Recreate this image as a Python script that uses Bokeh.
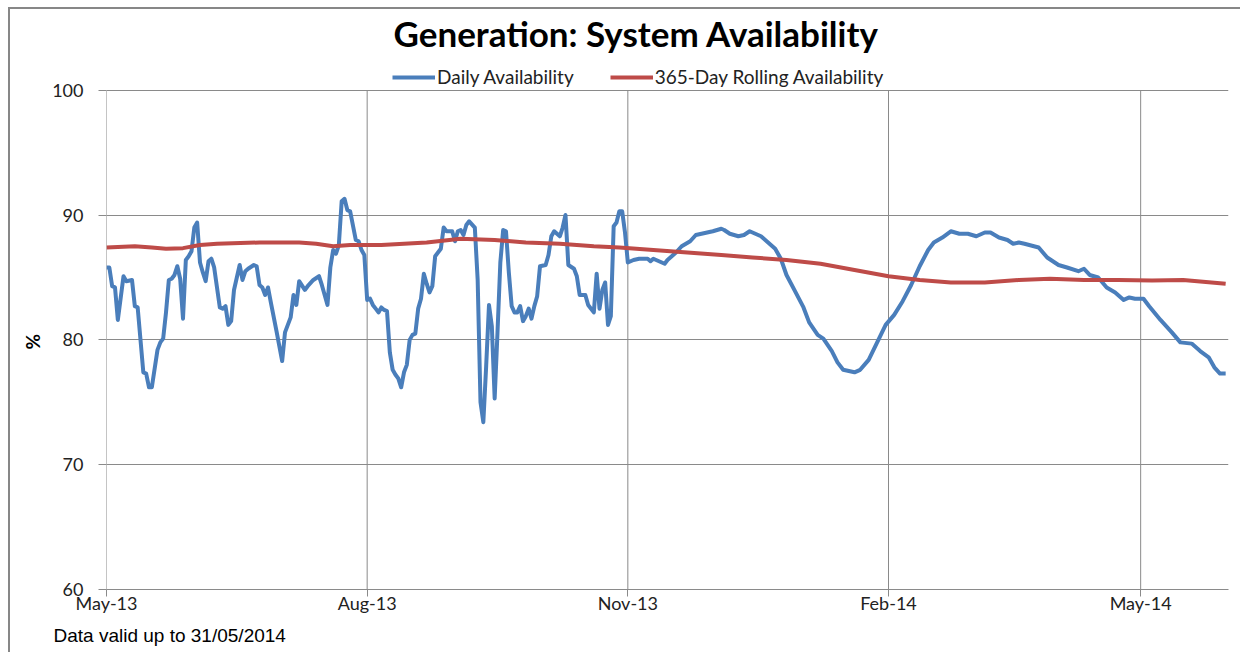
import pandas as pd
from bokeh.plotting import figure
from bokeh.models import (FixedTicker, DatetimeTickFormatter, Legend, LegendItem,
                          Title, Range1d, Label)
from bokeh.embed import file_html
from bokeh.resources import INLINE

TITLE = "Generation: System Availability"
FOOTNOTE = "Data valid up to 31/05/2014"
Y_LABEL = "%"
SERIES_NAMES = ["Daily Availability", "365-Day Rolling Availability"]
START = "2013-05-01"
END = "2014-06-01"

# day offsets from START and values (%)
DAILY_DAY = [0, 1, 2, 3, 4, 6, 7, 9, 10, 11, 13, 14, 15, 16, 18, 19, 20, 21, 22, 23,
             24, 25, 26, 27, 28, 29, 30, 31, 32, 33, 34, 35, 36, 37, 38, 40, 41, 42, 43, 44,
             45, 47, 48, 49, 50, 52, 53, 54, 55, 56, 57, 58, 60, 61, 62, 63, 65, 66, 67, 68,
             70, 71, 73, 75, 76, 78, 79, 80, 81, 82, 83, 84, 85, 86, 88, 89, 90, 91, 92, 93,
             94, 95, 96, 97, 98, 99, 100, 101, 102, 103, 104, 105, 106, 107, 108, 109, 110, 111, 112, 113,
             114, 115, 116, 118, 119, 120, 122, 123, 124, 125, 126, 127, 128, 130, 131, 132, 133, 134, 135, 136,
             137, 138, 139, 140, 141, 142, 143, 144, 145, 146, 147, 148, 149, 150, 151, 152, 153, 155, 156, 157,
             158, 160, 161, 162, 163, 165, 166, 167, 169, 170, 172, 173, 174, 175, 176, 177, 178, 179, 180, 181,
             182, 183, 184, 185, 186, 188, 191, 192, 193, 195, 197, 198, 201, 203, 206, 208, 212, 214, 217, 218,
             220, 223, 225, 227, 229, 231, 233, 236, 238, 240, 243, 246, 248, 251, 253, 256, 258, 260, 264, 266,
             269, 272, 275, 278, 281, 284, 287, 290, 292, 295, 298, 301, 304, 307, 310, 312, 315, 318, 320, 322,
             324, 329, 332, 336, 339, 343, 345, 347, 350, 353, 356, 359, 361, 363, 366, 368, 372, 376, 379, 383,
             386, 389, 391, 393, 395]
DAILY_VAL = [85.8, 85.8, 84.3, 84.2, 81.6, 85.1, 84.7, 84.8, 82.7, 82.6, 77.4, 77.3, 76.2, 76.2, 79.2, 79.8, 80.1, 82.2, 84.8, 84.9,
             85.2, 85.9, 84.9, 81.7, 86.4, 86.7, 87.1, 89.0, 89.4, 86.2, 85.4, 84.7, 86.3, 86.5, 85.8, 82.6, 82.5, 82.7, 81.2, 81.5,
             84.0, 86.0, 84.8, 85.5, 85.7, 86.0, 85.9, 84.4, 84.2, 83.6, 84.2, 83.0, 80.7, 79.5, 78.3, 80.6, 81.8, 83.6, 82.8, 84.7,
             84.0, 84.3, 84.8, 85.1, 84.4, 82.8, 85.8, 87.2, 86.9, 87.6, 91.1, 91.3, 90.4, 90.3, 88.0, 87.9, 87.2, 86.8, 83.2, 83.3,
             82.8, 82.5, 82.2, 82.6, 82.4, 82.3, 79.0, 77.6, 77.2, 76.9, 76.2, 77.4, 78.0, 80.0, 80.4, 80.5, 82.5, 83.3, 85.3, 84.5,
             83.8, 84.3, 86.7, 87.3, 89.0, 88.7, 88.7, 87.9, 88.7, 88.8, 88.4, 89.2, 89.5, 89.0, 84.8, 75.0, 73.4, 77.9, 82.8, 81.1,
             75.3, 80.6, 86.2, 88.8, 88.7, 85.4, 82.7, 82.2, 82.2, 82.7, 81.5, 81.9, 82.5, 81.7, 82.7, 83.5, 85.9, 86.0, 86.8, 88.3,
             88.7, 88.3, 89.0, 90.0, 86.0, 85.7, 85.1, 83.6, 83.6, 82.8, 82.2, 85.3, 82.5, 84.0, 84.6, 81.2, 81.9, 89.1, 89.4, 90.3,
             90.3, 88.6, 86.2, 86.3, 86.4, 86.5, 86.5, 86.3, 86.5, 86.3, 86.1, 86.4, 87.0, 87.5, 87.9, 88.4, 88.6, 88.7, 88.9, 88.8,
             88.5, 88.3, 88.4, 88.7, 88.5, 88.3, 87.9, 87.3, 86.5, 85.2, 83.9, 82.6, 81.4, 80.4, 80.1, 79.1, 78.2, 77.6, 77.4, 77.6,
             78.4, 79.8, 81.2, 82.0, 83.1, 84.4, 85.9, 87.2, 87.8, 88.2, 88.7, 88.5, 88.5, 88.3, 88.6, 88.6, 88.2, 88.0, 87.7, 87.8,
             87.7, 87.4, 86.6, 86.0, 85.8, 85.5, 85.7, 85.2, 85.0, 84.2, 83.8, 83.2, 83.4, 83.3, 83.3, 82.7, 81.6, 80.6, 79.8, 79.7,
             79.1, 78.6, 77.8, 77.3, 77.3]

ROLL_DAY = [0, 10, 16, 21, 27, 33, 39, 54, 68, 74, 80, 86, 97, 113, 125, 137, 148, 160, 172, 181,
            193, 205, 217, 228, 240, 252, 264, 276, 287, 298, 310, 322, 333, 345, 357, 369, 380, 395]
ROLL_VAL = [87.4, 87.5, 87.4, 87.3, 87.35, 87.6, 87.7, 87.8, 87.8, 87.7, 87.5, 87.6, 87.6, 87.8, 88.1, 88.0, 87.8, 87.7, 87.5, 87.4,
            87.2, 87.0, 86.8, 86.6, 86.4, 86.1, 85.6, 85.1, 84.8, 84.6, 84.6, 84.8, 84.9, 84.8, 84.8, 84.75, 84.8, 84.5]

TICK_DATES = ["2013-05-01", "2013-08-01", "2013-11-01", "2014-02-01", "2014-05-01"]
TICK_LABELS = ["May-13", "Aug-13", "Nov-13", "Feb-14", "May-14"]
Y_TICKS = [60, 70, 80, 90, 100]

BLUE = "#4A7EBB"
RED = "#BE4B48"
GRID = "#8a8a8a"
FONT = "Lato"

start = pd.Timestamp(START)
daily_x = [start + pd.Timedelta(days=d) for d in DAILY_DAY]
roll_x = [start + pd.Timedelta(days=d) for d in ROLL_DAY]
tick_ts = [pd.Timestamp(t) for t in TICK_DATES]
tick_ms = [t.value / 1e6 for t in tick_ts]

# frame spans the full height above the axis so the title & legend can sit inside it
p = figure(width=1240, height=652, x_axis_type="datetime",
           x_range=Range1d(start, pd.Timestamp(END)), y_range=Range1d(60, 107.19),
           output_backend="svg", toolbar_location=None,
           min_border_left=106, min_border_right=12, min_border_top=0, min_border_bottom=61)
p.outline_line_color = None
p.background_fill_color = "white"
p.border_fill_color = "white"
# chart-area border (left and top edges), drawn over the canvas; right strip kept blank
p.stylesheets = [
    ":host { position: relative; }",
    ":host::after { content: ''; position: absolute; left: 8px; top: 7px; right: 0; bottom: 0; "
    "border-left: 2px solid #878787; border-top: 2px solid #878787; pointer-events: none; z-index: 10; }",
    ":host::before { content: ''; position: absolute; top: 9px; right: 0; width: 5px; bottom: 0; "
    "background: white; pointer-events: none; z-index: 9; }",
]

# vertical grid lines, limited to the 60-100 band
p.segment(x0=tick_ts, y0=[Y_TICKS[0]] * len(tick_ts), x1=tick_ts, y1=[Y_TICKS[-1]] * len(tick_ts),
          line_color=GRID, line_width=1)

r1 = p.line(daily_x, DAILY_VAL, line_color=BLUE, line_width=4, line_join="round")
r2 = p.line(roll_x, ROLL_VAL, line_color=RED, line_width=4, line_join="round")

# axes
xt = FixedTicker(ticks=tick_ms)
p.xaxis.ticker = xt
p.xgrid.visible = False
p.xaxis.formatter = DatetimeTickFormatter(days="%b-%y", months="%b-%y", years="%b-%y")
p.xaxis.major_label_overrides = {t: l for t, l in zip(tick_ms, TICK_LABELS)}
yt = FixedTicker(ticks=Y_TICKS)
p.yaxis.ticker = yt
p.ygrid.ticker = yt
p.ygrid.grid_line_color = GRID
p.ygrid.grid_line_width = 1

for ax in (p.xaxis, p.yaxis):
    ax.major_tick_line_color = GRID
    ax.minor_tick_line_color = None
    ax.major_tick_in = 0
    ax.major_label_text_font = FONT
    ax.major_label_text_font_size = "18px"
    ax.major_label_text_color = "#222222"
p.xaxis.axis_line_color = GRID
p.yaxis.axis_line_color = None
p.xaxis.major_tick_out = 7
p.xaxis.major_label_standoff = -5
p.yaxis.major_tick_out = 8
p.yaxis.major_label_standoff = 15

# y label as a side title so it can be centred on the 60-100 band
p.add_layout(Title(text=Y_LABEL, align="left", offset=240, text_font=FONT,
                   text_font_size="19px", text_font_style="bold", text_color="black",
                   standoff=12), "left")

# legend
legend = Legend(items=[LegendItem(label=SERIES_NAMES[0], renderers=[r1]),
                       LegendItem(label=SERIES_NAMES[1], renderers=[r2])],
                orientation="horizontal", location=(286, 501),
                glyph_width=43, glyph_height=20, label_standoff=2, spacing=36,
                padding=0, margin=0, border_line_color=None, background_fill_alpha=0,
                label_text_font=FONT, label_text_font_size="19px", label_text_color="#222222")
p.add_layout(legend, "center")

# title
p.add_layout(Label(x=287, y=557, x_units="screen", y_units="screen", text=TITLE,
                   text_font=FONT, text_font_size="35px", text_font_style="bold",
                   text_color="black", text_align="left", text_baseline="alphabetic"))

# footnote
p.add_layout(Title(text=FOOTNOTE, align="left", offset=-53, text_font="Liberation Sans",
                   text_font_size="19px", text_font_style="normal", text_color="black",
                   standoff=13), "below")

open("out.html", "w").write(file_html(p, INLINE))
